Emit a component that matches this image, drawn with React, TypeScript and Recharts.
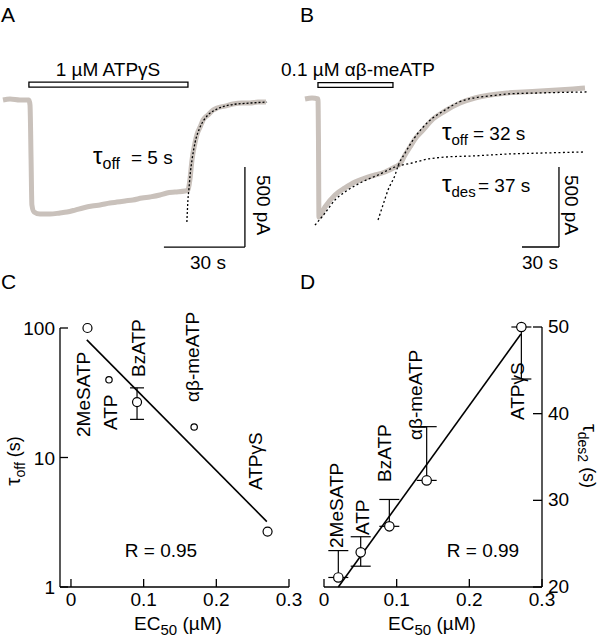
import React from 'react';
import {
  ComposedChart,
  Line,
  Scatter,
  XAxis,
  YAxis,
  ReferenceArea,
  ReferenceLine,
  ErrorBar,
} from 'recharts';

const FONT = '"Liberation Sans", Arial, Helvetica, sans-serif';
const TRACE_COLOR = '#c9c1bb';

// ---------- Panel A: current trace, [time (s), current (pA)] ----------
const traceA: [number, number][] = [
  [0, 0], [2.6, 6], [6.3, 0], [9.6, 0], [10.0, -31], [10.4, -375], [10.7, -656],
  [11.5, -700], [13.7, -713], [17.4, -713], [21.1, -706], [23.7, -700], [26.7, -688],
  [29.6, -675], [33, -663], [35.9, -656], [39.6, -644], [42.2, -638], [45.2, -631],
  [48.1, -625], [51.5, -613], [54.4, -606], [58.1, -594], [60.7, -581], [63.7, -575],
  [67.4, -569], [68.5, -563], [69.3, -488], [70, -375], [71.1, -269], [71.9, -213],
  [73, -169], [74.1, -125], [75.9, -94], [77.8, -63], [79.3, -50], [82.2, -38],
  [85.2, -25], [88.5, -19], [91.5, -19], [94.4, -13], [97.4, -13],
];
const fitA: [number, number][] = [
  [68.1, -763], [68.5, -625], [68.9, -550], [69.3, -469], [70, -375], [71.1, -269],
  [73, -169], [74.4, -125], [75.9, -94], [79.3, -56], [84.1, -31], [91.5, -19], [97.8, -13],
];
const barA = [9.6, 68.5, 81, 112]; // t start, t end, i low, i high
const scaleBarA = [59.6, 89.6, -919, -419]; // 30 s, 500 pA

// ---------- Panel B ----------
const traceB: [number, number][] = [
  [-1.6, 0], [4.1, 6], [8.9, 0], [9.3, -256], [9.7, -738], [14.6, -675], [22.7, -600],
  [30.8, -556], [38.9, -519], [47, -494], [55.1, -475], [63.2, -456], [71.4, -425],
  [75.4, -406], [79.5, -350], [83.5, -300], [87.6, -250], [94.1, -194], [102.2, -125],
  [111.9, -75], [124.1, -25], [136.2, 6], [148.4, 25], [162.2, 38], [175.1, 44],
  [189.2, 50], [202.7, 56], [215.7, 63], [225.4, 69],
];
const fitOffB: [number, number][] = [
  [57.6, -756], [61.6, -663], [65.7, -569], [71.4, -475], [73.8, -419], [79.5, -338],
  [87.6, -238], [98.1, -144], [111.9, -69], [121.6, -25], [134.6, 6], [148.4, 19],
  [162.2, 31], [188.9, 38], [227, 44],
];
const fitDesB: [number, number][] = [
  [6.5, -788], [14.6, -713], [22.7, -631], [30.8, -581], [44.6, -519], [57.6, -475],
  [71.4, -425], [85.1, -400], [98.1, -375], [111.9, -363], [134.6, -356], [162.2, -344],
  [188.9, -338], [225.4, -331],
];
const barB = [8.9, 69.7, 73, 102];
const scaleBarB = [174.3, 204.3, -925, -425];

// ---------- Panel C ----------
const agonists = ['2MeSATP', 'ATP', 'BzATP', 'αβ-meATP', 'ATPγS'];
const ec50C = [0.0227, 0.0523, 0.0909, 0.1695, 0.2705];
const tauOffC = [100, 39.8, 26.8, 17.2, 2.68];
const errLowC = [0, 0, 7.1, 0, 0];
const errHighC = [0, 0, 7.7, 0, 0];
const radiusC = [4.5, 3.2, 4.5, 3.2, 4.5];
const fitCx = [0.0218, 0.2695];
const fitCy = [80.9, 3.2];
const xTicks = [0, 0.1, 0.2, 0.3];
const yTicksC = [1, 10, 100];

// ---------- Panel D ----------
const ec50D = [0.0197, 0.0505, 0.0899, 0.1413, 0.2716];
const tauDesD = [21.1, 24.0, 27.0, 32.3, 50.0];
const errLowD = [0, 1.6, 0, 0, 6.0];
const errHighD = [3.1, 1.8, 3.1, 6.2, 0];
const radiusD = [4.7, 4.7, 4.7, 4.7, 4.7];
const fitDx = [0.0197, 0.271];
const fitDy = [20.0, 49.2];
const yTicksD = [20, 30, 40, 50];

const toTI = (arr: [number, number][]) => arr.map(([t, i]) => ({ t, i }));

const buildPts = (xs: number[], ys: number[], lo: number[], hi: number[], rs: number[]) =>
  xs.map((x, k) => ({ name: agonists[k], x, y: ys[k], err: [lo[k], hi[k]], r: rs[k], hasErr: lo[k] + hi[k] > 0 }));

const ptsC = buildPts(ec50C, tauOffC, errLowC, errHighC, radiusC);
const ptsD = buildPts(ec50D, tauDesD, errLowD, errHighD, radiusD);
const lineC = fitCx.map((x, k) => ({ x, y: fitCy[k] }));
const lineD = fitDx.map((x, k) => ({ x, y: fitDy[k] }));

const fmt = (v: number) => (v === 0 ? '0' : String(v));

const XTick = (props: any) => {
  const { x, y, payload } = props;
  return (
    <g>
      <line x1={x} x2={x} y1={y} y2={y - 8} stroke="#000" strokeWidth={1.3} />
      <text x={x} y={y + 19} textAnchor="middle" fontSize={19} fontFamily={FONT} fill="#000">
        {fmt(payload.value)}
      </text>
    </g>
  );
};

const YTickLeft = (props: any) => {
  const { x, y, payload } = props;
  return (
    <g>
      <line x1={x} x2={x + 8} y1={y} y2={y} stroke="#000" strokeWidth={1.3} />
      <text x={x - 5} y={y + 7} textAnchor="end" fontSize={19} fontFamily={FONT} fill="#000">
        {fmt(payload.value)}
      </text>
    </g>
  );
};

const YTickRight = (props: any) => {
  const { x, y, payload } = props;
  return (
    <g>
      <line x1={x} x2={x - 9} y1={y} y2={y} stroke="#000" strokeWidth={1.3} />
      <text x={x + 6} y={y + 6} textAnchor="start" fontSize={19} fontFamily={FONT} fill="#000">
        {fmt(payload.value)}
      </text>
    </g>
  );
};

const circleShape = (props: any) => {
  const { cx, cy, payload } = props;
  if (cx == null || cy == null) return <g />;
  return <circle cx={cx} cy={cy} r={payload.r} fill="#fff" stroke="#000" strokeWidth={1.2} />;
};
const noShape = () => <g />;

type TraceProps = {
  left: number; top: number; width: number; height: number;
  xDomain: [number, number]; yDomain: [number, number];
  trace: [number, number][]; fits: [number, number][][];
  bar: number[]; scaleBar: number[]; dash: string;
};

const TracePanel = ({ left, top, width, height, xDomain, yDomain, trace, fits, bar, scaleBar, dash }: TraceProps) => (
  <div style={{ position: 'absolute', left, top, width, height }}>
    <ComposedChart width={width} height={height} margin={{ top: 0, right: 0, bottom: 0, left: 0 }}>
      <XAxis type="number" dataKey="t" domain={xDomain} allowDataOverflow hide />
      <YAxis type="number" dataKey="i" domain={yDomain} allowDataOverflow hide />
      <ReferenceArea x1={bar[0]} x2={bar[1]} y1={bar[2]} y2={bar[3]} fill="#fff" fillOpacity={1} stroke="#000" strokeWidth={1.3} />
      <Line data={toTI(trace)} dataKey="i" type="monotone" stroke={TRACE_COLOR} strokeWidth={5} dot={false} activeDot={false} isAnimationActive={false} />
      {fits.map((f, k) => (
        <Line key={k} data={toTI(f)} dataKey="i" type="monotone" stroke="#000" strokeWidth={1.3} strokeDasharray={dash} dot={false} activeDot={false} isAnimationActive={false} />
      ))}
      <ReferenceLine segment={[{ x: scaleBar[1], y: scaleBar[3] }, { x: scaleBar[1], y: scaleBar[2] }]} stroke="#000" strokeWidth={1.3} />
      <ReferenceLine segment={[{ x: scaleBar[0], y: scaleBar[2] }, { x: scaleBar[1], y: scaleBar[2] }]} stroke="#000" strokeWidth={1.3} />
    </ComposedChart>
  </div>
);

const Sub = ({ main, sub, rest, mainSize = 24, subSize = 15 }: any) => (
  <>
    <tspan fontSize={mainSize}>{main}</tspan>
    <tspan fontSize={subSize} dy={5}>{sub}</tspan>
    <tspan dy={-5}>{rest}</tspan>
  </>
);

const Rot = ({ x, y, angle, children, anchor = 'start', size = 19 }: any) => (
  <text transform={`translate(${x},${y}) rotate(${angle})`} textAnchor={anchor} fontSize={size}>
    {children}
  </text>
);

export default function App() {
  return (
    <div style={{ position: 'absolute', left: 0, top: 0, width: 602, height: 640, background: '#fff', fontFamily: FONT, overflow: 'hidden' }}>
      <TracePanel left={0} top={40} width={300} height={240} xDomain={[-1.111, 110]} yDomain={[-1125, 375]}
        trace={traceA} fits={[fitA]} bar={barA} scaleBar={scaleBarA} dash="2 2" />
      <TracePanel left={300} top={40} width={302} height={240} xDomain={[-5.676, 239.19]} yDomain={[-1131.25, 368.75]}
        trace={traceB} fits={[fitOffB, fitDesB]} bar={barB} scaleBar={scaleBarB} dash="2 2.5" />

      {/* Panel C */}
      <div style={{ position: 'absolute', left: 0, top: 300, width: 314, height: 340 }}>
        <ComposedChart width={314} height={340} margin={{ top: 28, right: 25, bottom: 0, left: 0 }}>
          <XAxis type="number" dataKey="x" domain={[-0.0151, 0.3]} ticks={xTicks} interval={0}
            height={53} tickSize={0} tickMargin={0} tickLine={false} axisLine={{ stroke: '#000', strokeWidth: 1.3 }} tick={XTick} />
          <YAxis type="number" dataKey="y" scale="log" domain={[1, 100]} ticks={yTicksC} interval={0}
            width={60} tickSize={0} tickMargin={0} tickLine={false} axisLine={{ stroke: '#000', strokeWidth: 1.3 }} tick={YTickLeft} />
          <Line data={lineC} dataKey="y" type="linear" stroke="#000" strokeWidth={1.6} dot={false} activeDot={false} isAnimationActive={false} />
          <Scatter data={ptsC.filter((p) => p.hasErr)} shape={noShape} isAnimationActive={false}>
            <ErrorBar dataKey="err" direction="y" width={7} stroke="#000" strokeWidth={1.2} isAnimationActive={false} />
          </Scatter>
          <Scatter data={ptsC} shape={circleShape} isAnimationActive={false} />
        </ComposedChart>
      </div>

      {/* Panel D */}
      <div style={{ position: 'absolute', left: 300, top: 300, width: 302, height: 340 }}>
        <ComposedChart width={302} height={340} margin={{ top: 27, right: 0, bottom: 0, left: 24 }}>
          <XAxis type="number" dataKey="x" domain={[0, 0.3]} ticks={xTicks} interval={0}
            height={53} tickSize={0} tickMargin={0} tickLine={false} axisLine={{ stroke: '#000', strokeWidth: 1.3 }} tick={XTick} />
          <YAxis type="number" dataKey="y" orientation="right" domain={[20, 50]} ticks={yTicksD} interval={0}
            width={60} tickSize={0} tickMargin={0} tickLine={false} axisLine={{ stroke: '#000', strokeWidth: 1.3 }} tick={YTickRight} />
          <Line data={lineD} dataKey="y" type="linear" stroke="#000" strokeWidth={1.6} dot={false} activeDot={false} isAnimationActive={false} />
          <Scatter data={ptsD.filter((p) => p.hasErr)} shape={noShape} isAnimationActive={false}>
            <ErrorBar dataKey="err" direction="y" width={10} stroke="#000" strokeWidth={1.2} isAnimationActive={false} />
          </Scatter>
          <Scatter data={ptsD} shape={circleShape} isAnimationActive={false} />
        </ComposedChart>
      </div>

      {/* Annotations */}
      <svg width={602} height={640} style={{ position: 'absolute', left: 0, top: 0, pointerEvents: 'none' }} fontFamily={FONT} fill="#000" fontSize={19}>
        <text x={1} y={22} fontSize={21}>A</text>
        <text x={300} y={22} fontSize={21}>B</text>
        <text x={1} y={289} fontSize={21}>C</text>
        <text x={300} y={289} fontSize={21}>D</text>

        <text x={108} y={76} textAnchor="middle">1 µM ATPγS</text>
        <text x={358} y={76} textAnchor="middle">0.1 µM αβ-meATP</text>

        <text x={93} y={164}>
          <tspan fontSize={24}>τ</tspan>
          <tspan fontSize={16} dy={5}>off</tspan>
          <tspan x={131} dy={-5}>= 5 s</tspan>
        </text>
        <text x={442} y={140}>
          <tspan fontSize={24}>τ</tspan>
          <tspan fontSize={15} dy={5}>off</tspan>
          <tspan x={473} dy={-5}>= 32 s</tspan>
        </text>
        <text x={442} y={192}>
          <tspan fontSize={24}>τ</tspan>
          <tspan fontSize={15} dy={5}>des</tspan>
          <tspan x={478} dy={-5}>= 37 s</tspan>
        </text>

        <Rot x={257} y={205} angle={90} anchor="middle">500 pA</Rot>
        <Rot x={565} y={205} angle={90} anchor="middle">500 pA</Rot>
        <text x={208} y={269} textAnchor="middle">30 s</text>
        <text x={540} y={269} textAnchor="middle">30 s</text>

        {/* C labels */}
        <Rot x={90} y={437} angle={-90}>{agonists[0]}</Rot>
        <Rot x={117} y={430} angle={-90}>{agonists[1]}</Rot>
        <Rot x={145} y={377} angle={-90}>{agonists[2]}</Rot>
        <Rot x={199} y={402} angle={-90}>{agonists[3]}</Rot>
        <Rot x={262} y={490} angle={-90}>{agonists[4]}</Rot>
        <text x={161} y={557} textAnchor="middle">R = 0.95</text>
        <Rot x={20} y={461} angle={-90} anchor="middle" size={18}>
          <Sub main="τ" sub="off" rest=" (s)" mainSize={21} subSize={14} />
        </Rot>
        <text x={178} y={630} textAnchor="middle">
          <Sub main="EC" sub="50" rest=" (µM)" mainSize={19} />
        </text>

        {/* D labels */}
        <Rot x={343} y={548} angle={-90}>{agonists[0]}</Rot>
        <Rot x={369} y={535} angle={-90}>{agonists[1]}</Rot>
        <Rot x={391} y={482} angle={-90}>{agonists[2]}</Rot>
        <Rot x={422} y={440} angle={-90}>{agonists[3]}</Rot>
        <Rot x={524} y={420} angle={-90}>{agonists[4]}</Rot>
        <text x={483} y={557} textAnchor="middle">R = 0.99</text>
        <Rot x={583} y={456} angle={90} anchor="middle" size={18}>
          <Sub main="τ" sub="des2" rest=" (s)" mainSize={20} subSize={14} />
        </Rot>
        <text x={432} y={630} textAnchor="middle">
          <Sub main="EC" sub="50" rest=" (µM)" mainSize={19} />
        </text>
      </svg>
    </div>
  );
}
